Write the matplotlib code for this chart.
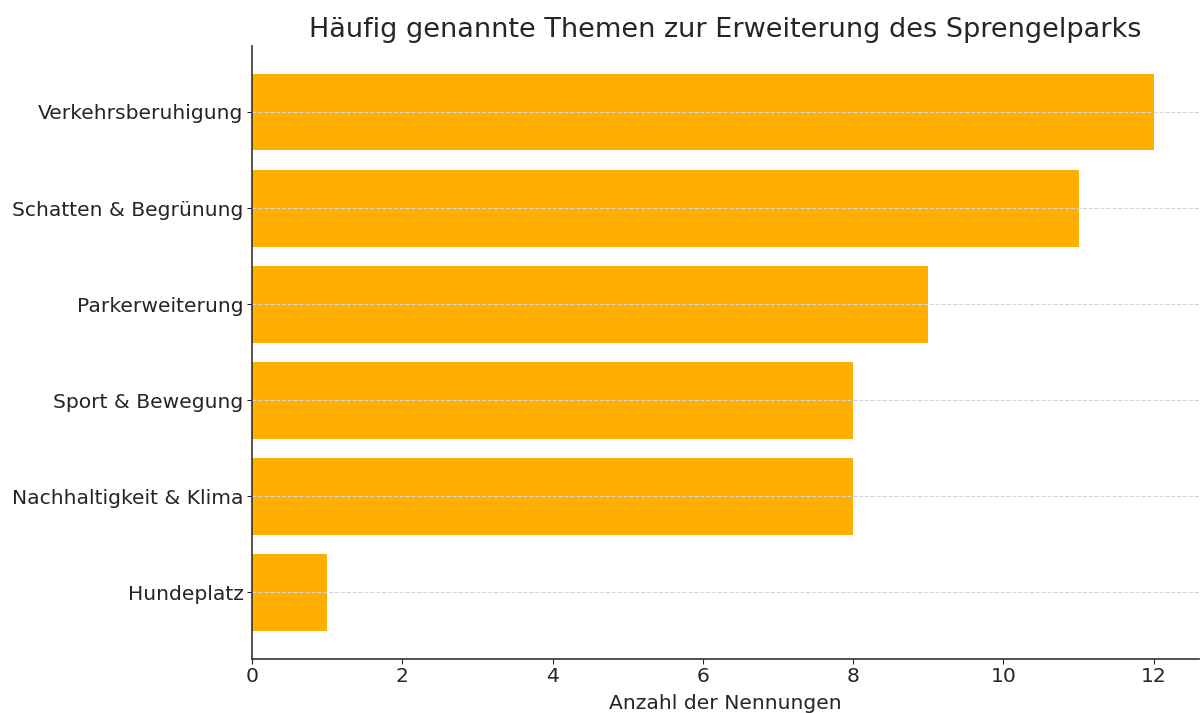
import matplotlib.pyplot as plt

themen = ['Verkehrsberuhigung', 'Schatten & Begrünung', 'Parkerweiterung',
          'Sport & Bewegung', 'Nachhaltigkeit & Klima', 'Hundeplatz']
nennungen = [12, 11, 9, 8, 8, 1]

plt.rcParams['font.family'] = ['DejaVu Sans']
plt.rcParams['text.color'] = '#262626'
plt.rcParams['axes.labelcolor'] = '#262626'
plt.rcParams['xtick.color'] = '#262626'
plt.rcParams['ytick.color'] = '#262626'

fig, ax = plt.subplots(figsize=(12, 7.13), dpi=100)
fig.subplots_adjust(left=0.21, right=0.999, bottom=0.076, top=0.936)

# reihenfolge umdrehen, damit der größte Wert oben steht
ax.barh(themen[::-1], nennungen[::-1], color='#FFAF00', height=0.8)

ax.grid(True, axis='y', linestyle='--', color='#d5d5d5', linewidth=0.8)
ax.set_axisbelow(False)
ax.spines['top'].set_visible(False)
ax.spines['right'].set_visible(False)
for s in ['left', 'bottom']:
    ax.spines[s].set_color('#333333')
    ax.spines[s].set_linewidth(1.2)

ax.tick_params(labelsize=14.6)
ax.tick_params(axis='y', pad=2.5)
ax.tick_params(axis='x', pad=2.5)
ax.set_xlabel('Anzahl der Nennungen', fontsize=14.6, labelpad=6)
ax.set_title('Häufig genannte Themen zur Erweiterung des Sprengelparks', fontsize=19.5, pad=6)

fig.savefig('out.png', dpi=100)
